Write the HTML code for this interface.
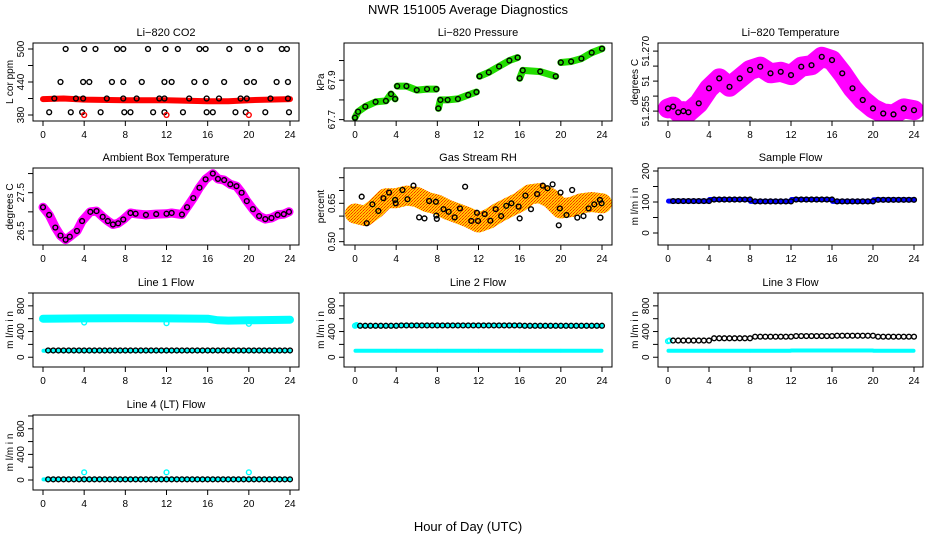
<!DOCTYPE html>
<html><head><meta charset="utf-8"><style>
html,body{margin:0;padding:0;background:#fff;}
svg{display:block;font-family:"Liberation Sans",sans-serif;}
</style></head><body>
<svg id="chart" width="936" height="540" viewBox="0 0 936 540" xmlns="http://www.w3.org/2000/svg">
<defs>
<pattern id="rhpat" width="3" height="3" patternUnits="userSpaceOnUse">
<rect width="3" height="3" fill="#ffcc00"/><rect x="0" y="0" width="1" height="1" fill="#ff2200"/><rect x="2" y="1" width="1" height="1" fill="#ff5500"/><rect x="1" y="2" width="1" height="1" fill="#ff3300"/>
</pattern>
</defs>
<text x="468" y="14" text-anchor="middle" font-size="13">NWR  151005  Average Diagnostics</text>
<text x="468" y="531" text-anchor="middle" font-size="13">Hour of Day (UTC)</text>
</svg>
<script>
// ---- data ----
const blockHours = [0.5,1,1.5,2,2.5,3,3.5,4,4.5,5,5.5,6,6.5,7,7.5,8,8.5,9,9.5,10,10.5,11,11.5,12,12.5,13,13.5,14,14.5,15,15.5,16,16.5,17,17.5,18,18.5,19,19.5,20,20.5,21,21.5,22,22.5,23,23.5,24];
const co2BandHours = [0,2,4,8,12,14,16,18,20,22,24];
const co2BandVals = [409,410,408,407,407,406,405,405,407,408,409];
const co2H500 = [2.2,4.0,5.1,7.2,7.8,10.2,11.9,13.1,15.2,15.8,18.1,19.9,21.1,23.2,23.7];
const co2H440 = [1.7,3.9,4.5,6.7,7.8,9.6,11.8,12.5,14.7,15.8,17.6,19.8,20.5,22.7,23.8];
const co2H410 = [1.1,3.2,3.9,6.2,7.8,9.1,11.3,11.8,14.2,15.9,17.1,19.2,19.8,22.1,23.8];
const co2H385 = [0.6,2.7,3.8,5.6,7.9,8.5,10.7,11.8,13.6,15.9,16.5,18.7,19.7,21.6,23.9];
const co2Levels = [500,440,410,385];
const co2OutHours = [4,12,20];
const co2OutVals = [380,380,380];
const presSegHours = [[0,0.3,1,2,3,3.5,3.9],[4.1,5,6,7,7.9],[8.1,8.3,9,10,11,11.8],[12.1,13,14,15,15.8],[16,16.3,18,19.5],[20,21,22,23,24]];
const presSegVals = [[67.71,67.74,67.766,67.79,67.795,67.83,67.805],[67.87,67.87,67.85,67.855,67.855],[67.757,67.80,67.80,67.805,67.825,67.84],[67.92,67.94,67.97,68.0,68.015],[67.91,67.95,67.944,67.92],[67.99,67.995,68.01,68.04,68.06]];
const tempHours = [0,0.5,1,1.5,2,3,4,5,6,7,8,9,10,11,12,13,14,15,16,17,18,19,20,21,22,23,24];
const tempVals = [51.2559,51.2565,51.2546,51.2550,51.2546,51.2576,51.2626,51.2659,51.2631,51.2659,51.2687,51.2698,51.2676,51.2681,51.2670,51.2698,51.2703,51.2731,51.2720,51.2676,51.2626,51.2587,51.2559,51.2542,51.2539,51.2559,51.2553];
const ambHours = [0,0.6,1.2,1.7,2.2,2.6,3.3,3.8,4.6,5.2,5.8,6.3,6.8,7.3,7.8,8.5,9.0,10,11,12,12.5,13.5,14,14.6,15.2,15.8,16.5,17.0,17.6,18.2,18.8,19.3,19.8,20.4,21.0,21.6,22.2,22.8,23.4,23.9];
const ambVals = [27.12,26.92,26.59,26.38,26.27,26.35,26.5,26.76,27.0,27.02,26.87,26.76,26.67,26.7,26.8,26.97,26.95,26.92,26.94,26.95,26.97,26.93,27.12,27.36,27.63,27.85,28.0,27.86,27.83,27.72,27.67,27.5,27.28,27.07,26.89,26.81,26.84,26.92,26.94,27.0];
const rhBandHours = [0,1,2,3,4,5,6,7,8,9,10,11,12,13,14,15,16,17,18,19,20,21,22,23,24];
const rhBandVals = [0.61,0.60,0.63,0.67,0.67,0.68,0.675,0.655,0.645,0.625,0.61,0.595,0.575,0.59,0.615,0.635,0.655,0.685,0.69,0.67,0.63,0.635,0.65,0.655,0.65];
const rhPtHours = [0.65,1.14,1.69,2.27,2.76,3.31,3.9,3.96,4.61,5.1,5.68,6.23,6.75,7.2,7.86,7.9,7.95,8.6,9.1,9.68,10.2,10.7,11.3,11.85,11.95,12.6,13.15,13.67,14.2,14.7,15.2,15.9,16,16.56,17.1,17.7,18.25,18.7,19.2,19.9,19.97,19.8,20.55,21.1,21.6,22.2,22.7,23.25,23.8,23.85,23.96];
const rhPtVals = [0.676,0.572,0.646,0.62,0.67,0.692,0.663,0.65,0.702,0.666,0.719,0.595,0.591,0.659,0.656,0.602,0.589,0.627,0.617,0.595,0.63,0.715,0.581,0.613,0.581,0.608,0.582,0.627,0.6,0.64,0.65,0.637,0.591,0.68,0.627,0.686,0.719,0.709,0.724,0.63,0.692,0.564,0.604,0.702,0.594,0.6,0.63,0.646,0.663,0.594,0.65];
const sampleBlocks = [103,108,102,108,102,107];
const l1HighHours = [0,4,8,12,16,17,18,20,24];
const l1HighVals = [600,605,608,605,600,575,570,575,585];
const l1BlackBlocks = [105,105,105,105,105,105];
const l1CyanLowBlocks = [100,100,100,100,100,100];
const l1OutHours = [4,12,20];
const l1OutVals = [540,530,520];
const l2BlackBlocks = [490,495,495,495,490,490];
const l2CyanLowBlocks = [100,100,100,100,100,100];
const l2StartHours = [0,0.15];
const l2StartVals = [490,500];
const l3BlackBlocks = [260,295,320,330,335,320];
const l3CyanLowBlocks = [100,100,100,105,105,100];
const l3StartHours = [0,0.15];
const l3StartVals = [250,260];
const l4BlackBlocks = [10,10,10,10,10,10];
const l4OutHours = [4,12,20];
const l4OutVals = [120,120,120];
const xTicks = [0,4,8,12,16,20,24];

const NS = "http://www.w3.org/2000/svg";
const svg = document.getElementById('chart');
const cols = [{x0:33,x1:299,h0:43,h24:290,yl:9},{x0:344,x1:612,h0:355,h24:602,yl:320},{x0:658,x1:923,h0:668,h24:914,yl:634}];
const rows = [{t:43,b:121},{t:168,b:245},{t:293,b:367},{t:415,b:490}];

function mk(tag, attrs, name, parent){
  const e = document.createElementNS(NS, tag);
  for (const k in attrs) e.setAttribute(k, attrs[k]);
  
  
  (parent || svg).appendChild(e);
  return e;
}
function txt(x, y, s, size, name, parent, rot){
  const e = mk('text', {x:x, y:y, 'font-size':size, 'text-anchor':'middle'}, name, parent);
  if (rot) e.setAttribute('transform', 'rotate(-90 '+x+' '+y+')');
  e.textContent = s;
  return e;
}
function blockVal(blocks, h){ return blocks[Math.min(5, Math.floor((h-0.01)/4))]; }

function makePanel(ci, ri, key, title, ylab, ymin, ymax, ticks, labels){
  const c = cols[ci], r = rows[ri];
  const g = mk('g', {}, key + '-panel');
  const sx = h => c.h0 + h*(c.h24-c.h0)/24;
  const sy = v => r.b - (v-ymin)/(ymax-ymin)*(r.b-r.t);
  const clipId = 'clip-' + key;
  const cp = mk('clipPath', {id: clipId}, key + '-clip', g);
  mk('rect', {x:c.x0, y:r.t, width:c.x1-c.x0, height:r.b-r.t}, key + '-clip-rect', cp);
  const plot = mk('g', {'clip-path':'url(#'+clipId+')'}, key + '-plot-area', g);
  txt((c.x0+c.x1)/2, r.t-7, title, 11, key + '-title', g);
  mk('line', {x1:sx(0), x2:sx(24), y1:r.b, y2:r.b, stroke:'#000'}, key + '-x-axis', g);
  xTicks.forEach(t => {
    mk('line', {x1:sx(t), x2:sx(t), y1:r.b, y2:r.b+5, stroke:'#000'}, key + '-x-tick', g);
    txt(sx(t), r.b+17, String(t), 10, key + '-x-tick-label', g);
  });
  mk('line', {x1:c.x0, x2:c.x0, y1:sy(ticks[0]), y2:sy(ticks[ticks.length-1]), stroke:'#000'}, key + '-y-axis', g);
  ticks.forEach((t, i) => {
    mk('line', {x1:c.x0-5, x2:c.x0, y1:sy(t), y2:sy(t), stroke:'#000'}, key + '-y-tick', g);
    if (labels[i]) txt(c.x0-9, sy(t), labels[i], 10, key + '-y-tick-label', g, true);
  });
  txt(c.yl+4, (r.t+r.b)/2, ylab, 10, key + '-y-axis-title', g, true);
  return {sx, sy, plot, g, c, r, key};
}
function drawBox(p){
  mk('rect', {x:p.c.x0, y:p.r.t, width:p.c.x1-p.c.x0, height:p.r.b-p.r.t, fill:'none', stroke:'#000'}, p.key + '-frame', p.g);
}
function band(p, hs, vs, color, w, name){
  const pts = hs.map((h,i) => p.sx(h).toFixed(1)+','+p.sy(vs[i]).toFixed(1)).join(' ');
  mk('polyline', {points:pts, fill:'none', stroke:color, 'stroke-width':w, 'stroke-linejoin':'round', 'stroke-linecap':'round'}, name, p.plot);
}
function circles(p, hs, vs, color, name, r, sw){
  hs.forEach((h,i) => {
    mk('circle', {cx:p.sx(h), cy:p.sy(vs[i]), r:r||2.4, fill:'none', stroke:color, 'stroke-width':sw||1.4}, name, p.plot);
  });
}
function blockBand(p, blocks, color, w, name){
  for (let b = 0; b < 6; b++) band(p, [b*4+0.05, b*4+3.95], [blocks[b], blocks[b]], color, w, name);
}
function blockCircles(p, blocks, color, name){
  circles(p, blockHours, blockHours.map(h => blockVal(blocks, h)), color, name);
}

let p = makePanel(0,0,'co2','Li\u2212820 CO2','L cor ppm',369.1,510.9,[380,410,440,470,500],['380','','440','','500']);
band(p, co2BandHours, co2BandVals, '#ff0000', 6, 'co2-band');
[co2H500, co2H440, co2H410, co2H385].forEach((hs, k) => circles(p, hs, hs.map(() => co2Levels[k]), '#000', 'co2-point'));
circles(p, co2OutHours, co2OutVals, '#ff0000', 'co2-outlier');
drawBox(p);

p = makePanel(1,0,'pressure','Li\u2212820 Pressure','kPa',67.693,68.089,[67.7,67.8,67.9,68.0],['67.7','','67.9','']);
presSegHours.forEach((hs, k) => band(p, hs, presSegVals[k], '#22dd00', 7, 'pressure-band'));
presSegHours.forEach((hs, k) => circles(p, hs, presSegVals[k], '#000', 'pressure-point'));
drawBox(p);

p = makePanel(2,0,'li820-temp','Li\u2212820 Temperature','degrees C',51.2517,51.2777,[51.255,51.260,51.265,51.270,51.275],['51.255','','51','','51.270']);
band(p, tempHours, tempVals, '#ff00ff', 20, 'temp-band');
circles(p, tempHours, tempVals, '#000', 'temp-point');
drawBox(p);

p = makePanel(0,1,'ambient','Ambient Box Temperature','degrees C',26.134,28.145,[26.5,27.0,27.5,28.0],['26.5','','27.5','']);
band(p, ambHours, ambVals, '#ff00ff', 9, 'ambient-band');
circles(p, ambHours, ambVals, '#000', 'ambient-point');
drawBox(p);

p = makePanel(1,1,'rh','Gas Stream RH','percent',0.487,0.788,[0.50,0.55,0.60,0.65,0.70,0.75],['0.50','','','0.65','','']);
band(p, rhBandHours, rhBandVals, 'url(#rhpat)', 20, 'rh-band');
circles(p, rhPtHours, rhPtVals, '#000', 'rh-point');
drawBox(p);

p = makePanel(2,1,'sample-flow','Sample Flow','m l/m i n',-38.7,209.7,[0,50,100,150,200],['0','','100','','200']);
blockBand(p, sampleBlocks, '#0000ff', 5, 'sample-band');
blockCircles(p, sampleBlocks, '#000', 'sample-point');
drawBox(p);

const flowTicks = [0,200,400,600,800,1000], flowLabels = ['0','','400','','800',''];
p = makePanel(0,2,'line1','Line 1 Flow','m l/m i n',-152,1000,flowTicks,flowLabels);
band(p, l1HighHours, l1HighVals, '#00ffff', 8, 'line1-high-band');
blockBand(p, l1CyanLowBlocks, '#00ffff', 4, 'line1-low-band');
blockCircles(p, l1BlackBlocks, '#000', 'line1-point');
circles(p, l1OutHours, l1OutVals, '#00ffff', 'line1-outlier');
drawBox(p);

p = makePanel(1,2,'line2','Line 2 Flow','m l/m i n',-152,1000,flowTicks,flowLabels);
blockBand(p, l2CyanLowBlocks, '#00ffff', 4, 'line2-low-band');
blockBand(p, l2BlackBlocks, '#00ffff', 4, 'line2-high-band');
circles(p, l2StartHours, l2StartVals, '#00ffff', 'line2-start-point');
blockCircles(p, l2BlackBlocks, '#000', 'line2-point');
drawBox(p);

p = makePanel(2,2,'line3','Line 3 Flow','m l/m i n',-152,1000,flowTicks,flowLabels);
blockBand(p, l3CyanLowBlocks, '#00ffff', 4, 'line3-low-band');
circles(p, l3StartHours, l3StartVals, '#00ffff', 'line3-start-point');
blockCircles(p, l3BlackBlocks, '#000', 'line3-point');
drawBox(p);

p = makePanel(0,3,'line4','Line 4 (LT) Flow','m l/m i n',-156,1015,flowTicks,flowLabels);
blockBand(p, l4BlackBlocks, '#00ffff', 4, 'line4-band');
blockCircles(p, l4BlackBlocks, '#000', 'line4-point');
circles(p, l4OutHours, l4OutVals, '#00ffff', 'line4-outlier');
drawBox(p);
</script>
</body></html>
